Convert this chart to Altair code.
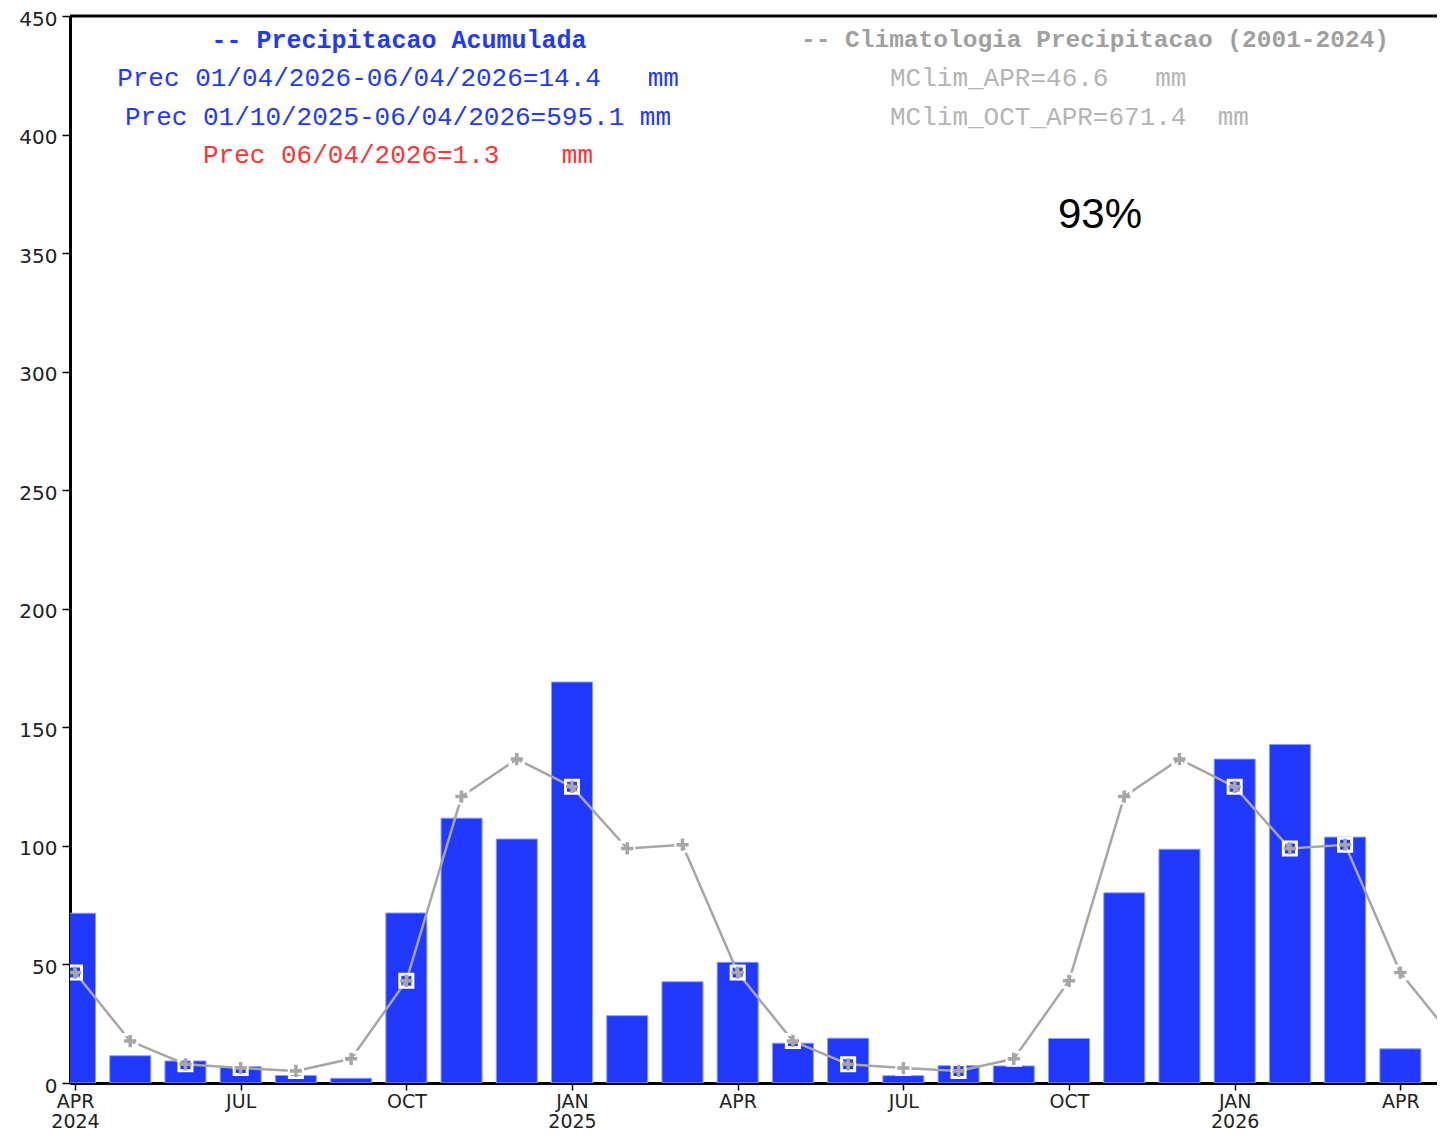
import json
import altair as alt
import pandas as pd

# ---------------- data ----------------
months = ["2024-04", "2024-05", "2024-06", "2024-07", "2024-08", "2024-09",
          "2024-10", "2024-11", "2024-12", "2025-01", "2025-02", "2025-03",
          "2025-04", "2025-05", "2025-06", "2025-07", "2025-08", "2025-09",
          "2025-10", "2025-11", "2025-12", "2026-01", "2026-02", "2026-03",
          "2026-04"]
prec = [71.6, 11.5, 9.3, 6.9, 3.2, 2.0,
        71.7, 111.7, 102.9, 169.1, 28.4, 42.7,
        50.9, 16.8, 18.9, 3.1, 7.3, 7.2,
        18.8, 80.2, 98.6, 136.6, 142.8, 103.7,
        14.4]
clim_months = months + ["2026-05"]
clim = [46.6, 17.7, 7.9, 6.3, 5.1, 10.2,
        43.1, 120.8, 136.6, 124.9, 98.9, 100.5,
        46.6, 17.7, 7.9, 6.3, 5.1, 10.2,
        43.1, 120.8, 136.6, 124.9, 98.9, 100.5,
        46.6, 17.7]
tick_labels = ["APR|2024", "JUL", "OCT", "JAN|2025", "APR", "JUL", "OCT",
               "JAN|2026", "APR"]
y_ticks = [0, 50, 100, 150, 200, 250, 300, 350, 400, 450]

blue_title = "-- Precipitacao Acumulada"
blue_line1 = "Prec 01/04/2026-06/04/2026=14.4   mm"
blue_line2 = "Prec 01/10/2025-06/04/2026=595.1 mm"
red_line = "Prec 06/04/2026=1.3    mm"
gray_title = "-- Climatologia Precipitacao (2001-2024)"
gray_line1 = "MClim_APR=46.6   mm"
gray_line2 = "MClim_OCT_APR=671.4  mm"
pct_text = "93%"

# ---------------- layout ----------------
W, H = 1367, 1067
MONTH_PX = 55.63
X_MAX = W / MONTH_PX
BLUE = "#2038ff"
GRAY = "#a6a6a6"
MONO = "Liberation Mono"
SANS = "DejaVu Sans"

df_p = pd.DataFrame({"month": months, "idx": list(range(len(months))), "prec": prec})
df_c = pd.DataFrame({"month": clim_months, "idx": list(range(len(clim_months))), "clim": clim})

xscale = alt.Scale(domain=[0, X_MAX], nice=False, zero=False)
yscale = alt.Scale(domain=[0, 450], nice=False)

label_expr = "split(" + json.dumps(tick_labels) + "[round(datum.value/3)], '|')"

xaxis = alt.Axis(values=list(range(0, 25, 3)), labelExpr=label_expr, title=None,
                 grid=False, domainColor="black", domainWidth=3, tickColor="black",
                 tickWidth=1.5, tickSize=7, labelFont=SANS, labelFontSize=19,
                 labelColor="#222", labelPadding=2, labelLineHeight=20,
                 labelBaseline="top", labelFlush=False, labelOverlap=False)
yaxis = alt.Axis(values=y_ticks, title=None, grid=False, domainColor="black",
                 domainWidth=3, tickColor="black", tickWidth=1.5, tickSize=8,
                 labelFont=SANS, labelFontSize=20, labelColor="#222",
                 labelPadding=5, labelOffset=3, labelFlush=False,
                 labelOverlap=False)

bars = alt.Chart(df_p).mark_bar(size=41, color=BLUE, stroke="#8c9cff",
                                strokeWidth=1, clip=True).encode(
    x=alt.X("idx:Q", scale=xscale, axis=xaxis),
    y=alt.Y("prec:Q", scale=yscale, axis=yaxis),
)

line = alt.Chart(df_c).mark_line(color=GRAY, strokeWidth=2.5, clip=True).encode(
    x=alt.X("idx:Q", scale=xscale),
    y=alt.Y("clim:Q", scale=yscale),
)

halo = alt.Chart(df_c).mark_point(shape="square", filled=False, color="white",
                                  strokeWidth=3, size=170, opacity=1,
                                  clip=True).encode(
    x=alt.X("idx:Q", scale=xscale),
    y=alt.Y("clim:Q", scale=yscale),
)

plus = alt.Chart(df_c).mark_point(shape="M-1,0H1M0,-1V1", filled=False,
                                  color=GRAY, strokeWidth=3.5, size=150,
                                  opacity=1, clip=True).encode(
    x=alt.X("idx:Q", scale=xscale),
    y=alt.Y("clim:Q", scale=yscale),
)

top_border = alt.Chart(pd.DataFrame({"v": [450]})).mark_rule(
    color="black", strokeWidth=3).encode(
    y=alt.Y("v:Q", scale=yscale), x=alt.value(0), x2=alt.value(W))


def text_layer(text, x, y, color, size, font, weight="normal", align="center"):
    shown = text.replace(" ", "\u00a0")
    return alt.Chart(pd.DataFrame({"t": [shown]})).mark_text(
        color=color, fontSize=size, font=font, fontWeight=weight, align=align,
        baseline="middle").encode(
        text="t:N", x=alt.value(x), y=alt.value(y))


texts = [
    text_layer(blue_title, 329, 24, BLUE, 25, MONO, "bold"),
    text_layer(blue_line1, 328, 62, BLUE, 26, MONO),
    text_layer(blue_line2, 328, 101, BLUE, 26, MONO),
    text_layer(red_line, 328, 139, "#ff3333", 26, MONO),
    text_layer(gray_title, 1025, 24, "#a0a0a0", 24.5, MONO, "bold"),
    text_layer(gray_line1, 820, 62, "#b4b4b4", 26, MONO, "normal", "left"),
    text_layer(gray_line2, 820, 101, "#b4b4b4", 26, MONO, "normal", "left"),
    text_layer(pct_text, 1030, 199, "black", 42, "Liberation Sans"),
]

chart = alt.layer(bars, line, halo, plus, top_border, *texts).properties(
    width=W, height=H,
    autosize=alt.AutoSizeParams(type="none"),
    padding={"left": 62, "top": 8, "right": 0, "bottom": 49},
).configure_view(stroke=None).configure(background="white")

chart.save("out.html", embed_options={"renderer": "svg", "actions": False})
